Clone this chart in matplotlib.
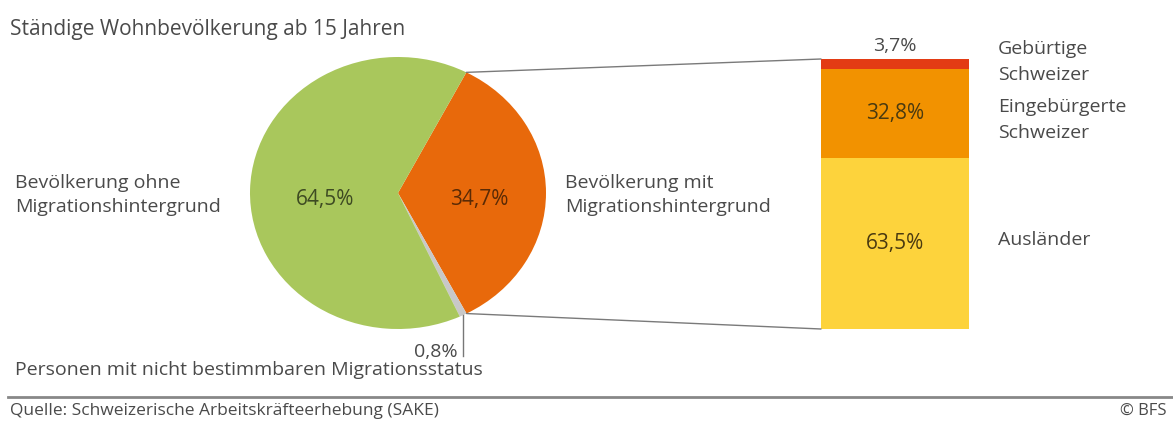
import numpy as np
import matplotlib.pyplot as plt
from matplotlib.patches import ConnectionPatch
from matplotlib.lines import Line2D

plt.rcParams['font.family'] = ['Open Sans', 'DejaVu Sans']

# pie: population 15+ by migration background
pie_labels = ['Bevölkerung mit\nMigrationshintergrund', 'Personen mit nicht bestimmbaren Migrationsstatus',
              'Bevölkerung ohne\nMigrationshintergrund']
pie_values = [34.7, 0.8, 64.5]
pie_text = ['34,7%', '0,8%', '64,5%']
pie_colors = ['#e8690b', '#c8c8c8', '#a9c75c']

# bar: breakdown of population with migration background (bottom -> top)
bar_labels = ['Ausländer', 'Eingebürgerte\nSchweizer', 'Gebürtige\nSchweizer']
bar_values = [63.5, 32.8, 3.7]
bar_text = ['63,5%', '32,8%', '3,7%']
bar_colors = ['#fdd33c', '#f29200', '#e33b14']

W, H = 1173, 421
txt = '#4a4a4a'
fs = 14
fig = plt.figure(figsize=(W / 100, H / 100), dpi=100)


def fx(x):
    return x / W


def fy(y):
    return 1 - y / H


# pie axes (slightly elliptical like the original)
cx, cy, rx, ry = 398, 193, 148, 136
ax = fig.add_axes([fx(cx - rx), fy(cy + ry), 2 * rx / W, 2 * ry / H])
wedges, _ = ax.pie(pie_values, colors=pie_colors, startangle=62.5, counterclock=False,
                   radius=1, wedgeprops=dict(linewidth=0))
ax.set_aspect('auto')
ax.set_xlim(-1, 1)
ax.set_ylim(-1, 1)
ax.axis('off')

ax.text(-0.49, -0.05, pie_text[2], ha='center', va='center', fontsize=15, color='#3d4a22')
ax.text(0.55, -0.05, pie_text[0], ha='center', va='center', fontsize=15, color='#5a2a05')

# leader for the tiny grey slice
g = wedges[1]
ang = np.deg2rad((g.theta1 + g.theta2) / 2)
gx, gy = np.cos(ang), np.sin(ang)
ax.plot([gx, gx], [gy, gy - 0.3], color='#777777', lw=1, clip_on=False)
ax.text(gx - 0.04, gy - 0.27, pie_text[1], ha='right', va='center', fontsize=fs, color=txt)

# stacked bar axes
bx0, bx1, by0, by1 = 821, 969, 59, 329
bax = fig.add_axes([fx(bx0), fy(by1), (bx1 - bx0) / W, (by1 - by0) / H])
bottom = 0
for v, c, t in zip(bar_values, bar_colors, bar_text):
    bax.bar(0, v, bottom=bottom, width=1, color=c, linewidth=0)
    if v > 10:
        bax.text(0, bottom + v / 2, t, ha='center', va='center', fontsize=15, color='#4a3a10')
    else:
        bax.text(0, bottom + v + 1.5, t, ha='center', va='bottom', fontsize=fs, color=txt)
    bottom += v
bax.set_xlim(-0.5, 0.5)
bax.set_ylim(0, 100)
bax.axis('off')

# connector lines from orange wedge to the bar
o = wedges[0]
top_a, bot_a = max(o.theta1, o.theta2), min(o.theta1, o.theta2)
for a, yb in [(top_a, 100), (bot_a, 0)]:
    r = np.deg2rad(a)
    con = ConnectionPatch(xyA=(np.cos(r), np.sin(r)), coordsA=ax.transData,
                          xyB=(-0.5, yb), coordsB=bax.transData,
                          color='#7a7a7a', lw=1)
    fig.add_artist(con)

# texts
fig.text(fx(10), fy(29), 'Ständige Wohnbevölkerung ab 15 Jahren', fontsize=15, color=txt, va='center')
fig.text(fx(15), fy(195), pie_labels[2], fontsize=fs, color=txt, va='center', linespacing=1.42)
fig.text(fx(565), fy(195), pie_labels[0], fontsize=fs, color=txt, va='center', linespacing=1.42)
fig.text(fx(15), fy(370), pie_labels[1], fontsize=fs, color=txt, va='center')
fig.text(fx(998), fy(62), bar_labels[2], fontsize=fs, color=txt, va='center', linespacing=1.5)
fig.text(fx(998), fy(120), bar_labels[1], fontsize=fs, color=txt, va='center', linespacing=1.5)
fig.text(fx(998), fy(240), bar_labels[0], fontsize=fs, color=txt, va='center')

# footer
fig.add_artist(Line2D([fx(8), 1], [fy(397), fy(397)], color='#888888', lw=2))
fig.text(fx(10), fy(411), 'Quelle: Schweizerische Arbeitskräfteerhebung (SAKE)', fontsize=12.5, color=txt, va='center')
fig.text(fx(1167), fy(411), '© BFS', fontsize=12, color=txt, va='center', ha='right')

fig.savefig('out.png', dpi=100)
